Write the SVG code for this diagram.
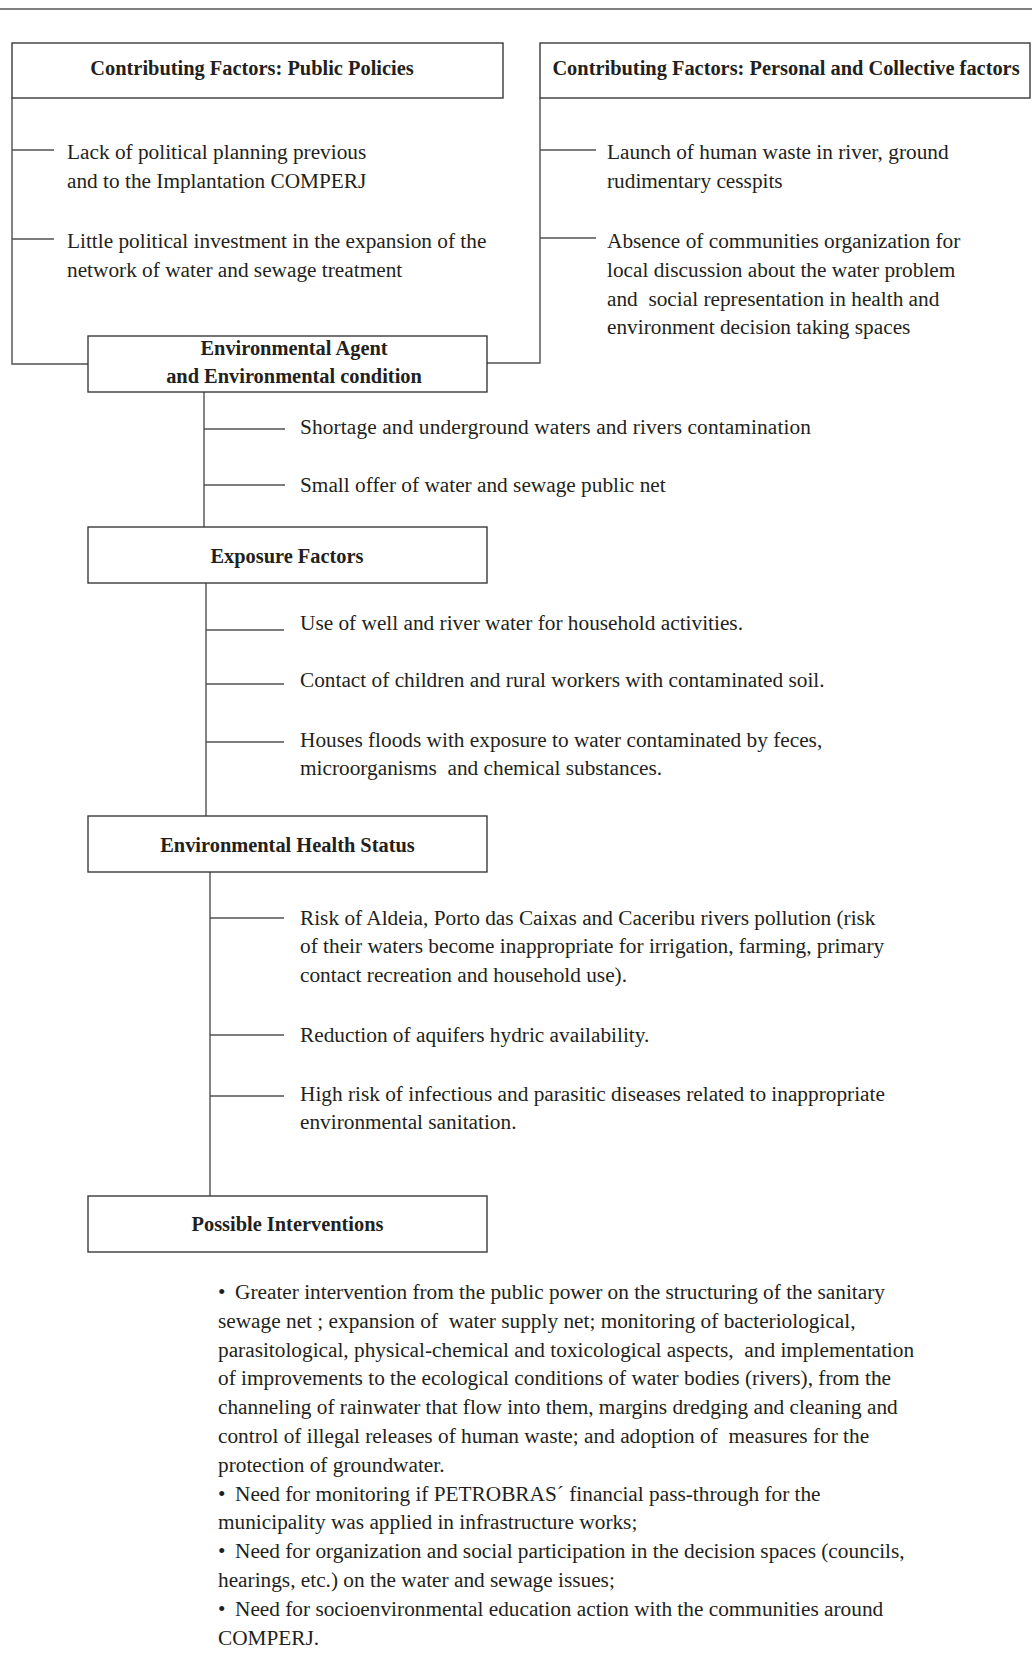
<svg xmlns="http://www.w3.org/2000/svg" width="1032" height="1655" viewBox="0 0 1032 1655">
<style>
.box{fill:#fff;stroke:#3a3a3a;stroke-width:1.4}
.ln{fill:none;stroke:#505050;stroke-width:1.4}
.t{font-family:"Liberation Serif","Times New Roman",serif;font-size:21.3px;fill:#231f20;white-space:pre}
.b{font-family:"Liberation Serif","Times New Roman",serif;font-size:20.4px;font-weight:bold;fill:#231f20;text-anchor:middle}
</style>
<rect width="1032" height="1655" fill="#fff"/>
<line x1="0" y1="9" x2="1032" y2="9" stroke="#555" stroke-width="1.5"/>

<g id="connectors">
<polyline class="ln" points="12,98 12,364 88,364"/>
<line class="ln" x1="12" y1="150" x2="54" y2="150"/>
<line class="ln" x1="12" y1="239" x2="54" y2="239"/>
<polyline class="ln" points="540,98 540,363 487,363"/>
<line class="ln" x1="540" y1="150" x2="596" y2="150"/>
<line class="ln" x1="540" y1="238" x2="596" y2="238"/>
<line class="ln" x1="204" y1="392" x2="204" y2="527"/>
<line class="ln" x1="204" y1="429" x2="285" y2="429"/>
<line class="ln" x1="204" y1="485" x2="285" y2="485"/>
<line class="ln" x1="206" y1="583" x2="206" y2="816"/>
<line class="ln" x1="206" y1="630" x2="284" y2="630"/>
<line class="ln" x1="206" y1="684" x2="284" y2="684"/>
<line class="ln" x1="206" y1="742" x2="284" y2="742"/>
<line class="ln" x1="210" y1="872" x2="210" y2="1196"/>
<line class="ln" x1="210" y1="918" x2="284" y2="918"/>
<line class="ln" x1="210" y1="1035" x2="284" y2="1035"/>
<line class="ln" x1="210" y1="1096" x2="284" y2="1096"/>
</g>

<g id="public-policies">
<rect class="box" x="12" y="43" width="491" height="55"/>
<text class="b" x="252" y="75">Contributing Factors: Public Policies</text>
<text class="t" x="67" y="159">Lack of political planning previous</text>
<text class="t" x="67" y="188">and to the Implantation COMPERJ</text>
<text class="t" x="67" y="248">Little political investment in the expansion of the</text>
<text class="t" x="67" y="277">network of water and sewage treatment</text>
</g>

<g id="personal-collective">
<rect class="box" x="540" y="43" width="490" height="55"/>
<text class="b" x="786" y="75">Contributing Factors: Personal and Collective factors</text>
<text class="t" x="607" y="159">Launch of human waste in river, ground</text>
<text class="t" x="607" y="188">rudimentary cesspits</text>
<text class="t" x="607" y="248">Absence of communities organization for</text>
<text class="t" x="607" y="277">local discussion about the water problem</text>
<text class="t" x="607" y="305.5" xml:space="preserve">and  social representation in health and</text>
<text class="t" x="607" y="334">environment decision taking spaces</text>
</g>

<g id="environmental-agent">
<rect class="box" x="88" y="336" width="399" height="56"/>
<text class="b" x="294" y="355">Environmental Agent</text>
<text class="b" x="294" y="383">and Environmental condition</text>
<text class="t" x="300" y="434" textLength="511" lengthAdjust="spacing">Shortage and underground waters and rivers contamination</text>
<text class="t" x="300" y="492">Small offer of water and sewage public net</text>
</g>

<g id="exposure-factors">
<rect class="box" x="88" y="527" width="399" height="56"/>
<text class="b" x="287" y="563">Exposure Factors</text>
<text class="t" x="300" y="630">Use of well and river water for household activities.</text>
<text class="t" x="300" y="687">Contact of children and rural workers with contaminated soil.</text>
<text class="t" x="300" y="747">Houses floods with exposure to water contaminated by feces,</text>
<text class="t" x="300" y="775" xml:space="preserve">microorganisms  and chemical substances.</text>
</g>

<g id="health-status">
<rect class="box" x="88" y="816" width="399" height="56"/>
<text class="b" x="287.5" y="852">Environmental Health Status</text>
<text class="t" x="300" y="925">Risk of Aldeia, Porto das Caixas and Caceribu rivers pollution (risk</text>
<text class="t" x="300" y="953">of their waters become inappropriate for irrigation, farming, primary</text>
<text class="t" x="300" y="982">contact recreation and household use).</text>
<text class="t" x="300" y="1042">Reduction of aquifers hydric availability.</text>
<text class="t" x="300" y="1101">High risk of infectious and parasitic diseases related to inappropriate</text>
<text class="t" x="300" y="1129">environmental sanitation.</text>
</g>

<g id="possible-interventions">
<rect class="box" x="88" y="1196" width="399" height="56"/>
<text class="b" x="287.5" y="1231">Possible Interventions</text>
<text class="t" x="218" y="1299"><tspan>•</tspan><tspan x="235">Greater intervention from the public power on the structuring of the sanitary</tspan></text>
<text class="t" x="218" y="1327.8" xml:space="preserve">sewage net ; expansion of  water supply net; monitoring of bacteriological,</text>
<text class="t" x="218" y="1356.6" xml:space="preserve">parasitological, physical-chemical and toxicological aspects,  and implementation</text>
<text class="t" x="218" y="1385.4">of improvements to the ecological conditions of water bodies (rivers), from the</text>
<text class="t" x="218" y="1414.2">channeling of rainwater that flow into them, margins dredging and cleaning and</text>
<text class="t" x="218" y="1443" xml:space="preserve">control of illegal releases of human waste; and adoption of  measures for the</text>
<text class="t" x="218" y="1471.8">protection of groundwater.</text>
<text class="t" x="218" y="1500.6"><tspan>•</tspan><tspan x="235">Need for monitoring if PETROBRAS´ financial pass-through for the</tspan></text>
<text class="t" x="218" y="1529.4">municipality was applied in infrastructure works;</text>
<text class="t" x="218" y="1558.2"><tspan>•</tspan><tspan x="235">Need for organization and social participation in the decision spaces (councils,</tspan></text>
<text class="t" x="218" y="1587">hearings, etc.) on the water and sewage issues;</text>
<text class="t" x="218" y="1615.8"><tspan>•</tspan><tspan x="235">Need for socioenvironmental education action with the communities around</tspan></text>
<text class="t" x="218" y="1644.6">COMPERJ.</text>
</g>
</svg>
